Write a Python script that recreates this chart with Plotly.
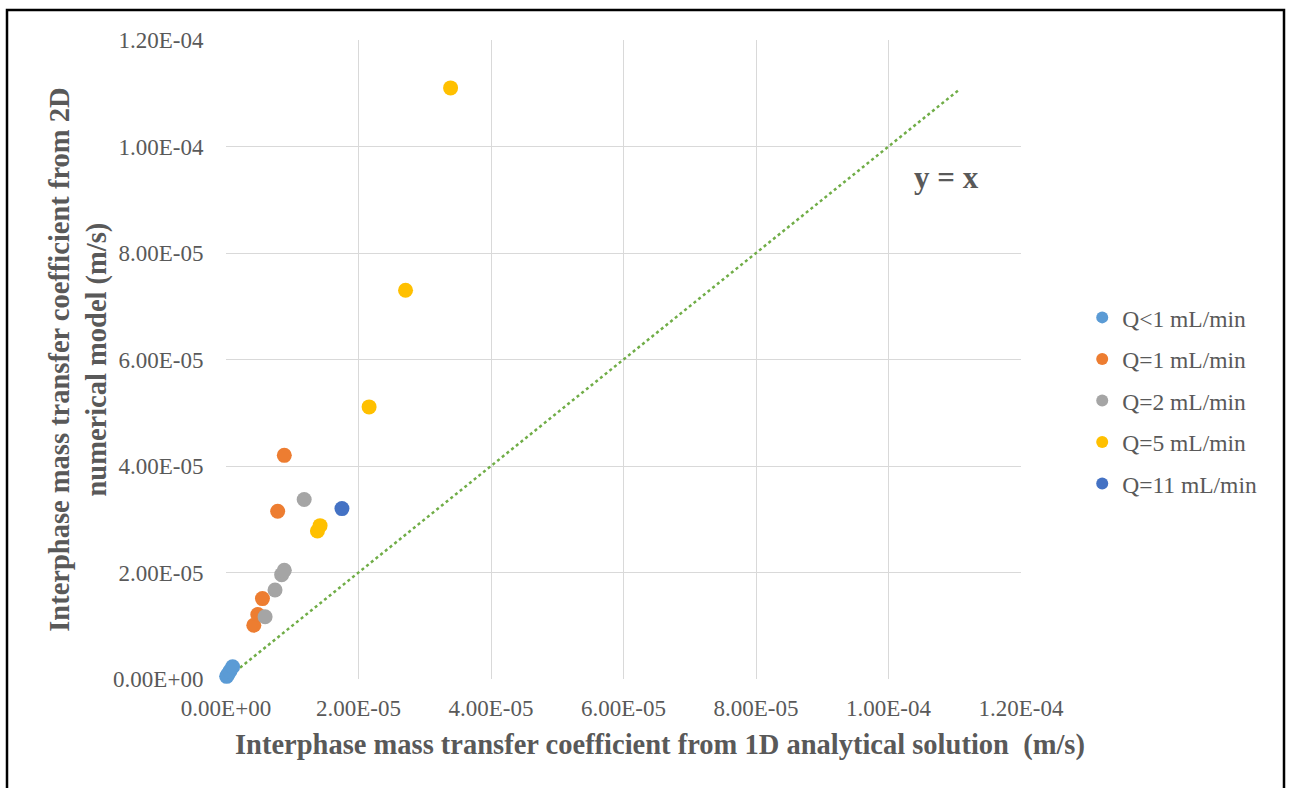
import plotly.graph_objects as go

# Interphase mass transfer coefficients: 1D analytical (x) vs 2D numerical (y), m/s
series_names = ["Q<1 mL/min", "Q=1 mL/min", "Q=2 mL/min", "Q=5 mL/min", "Q=11 mL/min"]
series_colors = ["#5B9BD5", "#ED7D31", "#A5A5A5", "#FFC000", "#4472C4"]

q_lt1_x = [1.0e-7, 3.0e-7, 6.0e-7, 1.0e-6]
q_lt1_y = [5.0e-7, 9.0e-7, 1.5e-6, 2.3e-6]

q1_x = [4.2e-6, 4.8e-6, 5.5e-6, 7.8e-6, 8.8e-6]
q1_y = [1.01e-5, 1.21e-5, 1.51e-5, 3.15e-5, 4.20e-5]

q2_x = [5.9e-6, 7.4e-6, 8.4e-6, 8.8e-6, 1.18e-5]
q2_y = [1.17e-5, 1.67e-5, 1.96e-5, 2.04e-5, 3.37e-5]

q5_x = [1.38e-5, 1.42e-5, 2.16e-5, 2.71e-5, 3.39e-5]
q5_y = [2.78e-5, 2.88e-5, 5.11e-5, 7.30e-5, 1.11e-4]

q11_x = [1.75e-5]
q11_y = [3.20e-5]

# Reference line y = x
ref_x = [0.0, 1.107e-4]
ref_y = [0.0, 1.107e-4]

tick_vals = [0, 2e-5, 4e-5, 6e-5, 8e-5, 1e-4, 1.2e-4]
tick_text = ["0.00E+00", "2.00E-05", "4.00E-05", "6.00E-05", "8.00E-05", "1.00E-04", "1.20E-04"]

x_title = "Interphase mass transfer coefficient from 1D analytical solution  (m/s)"
y_title = "Interphase mass transfer coefficient from 2D<br>numerical model (m/s)"

xs = [q_lt1_x, q1_x, q2_x, q5_x, q11_x]
ys = [q_lt1_y, q1_y, q2_y, q5_y, q11_y]

FONT = "Liberation Serif, Times New Roman, serif"
GRAY = "#595959"

# Plot area in pixels (left, right, top, bottom)
L, R, T, B = 226, 1021, 40, 679.5
W, H = R - L, B - T

fig = go.Figure()

fig.add_trace(go.Scatter(
    x=ref_x, y=ref_y, mode="lines",
    line=dict(color="#70AD47", width=2.5, dash="dot"),
    showlegend=False, hoverinfo="skip",
))

for name, color, x, y in zip(series_names, series_colors, xs, ys):
    fig.add_trace(go.Scatter(
        x=x, y=y, mode="markers", name=name, legendgroup=name,
        marker=dict(color=color, size=15, line=dict(width=0)),
        cliponaxis=False,
    ))

axis_common = dict(
    range=[0, 1.2e-4],
    tickvals=tick_vals,
    ticktext=tick_text,
    showgrid=True,
    gridcolor="#D9D9D9",
    gridwidth=1,
    zeroline=False,
    showline=False,
    ticks="outside",
    tickcolor="rgba(0,0,0,0)",
    tickfont=dict(family=FONT, size=23, color=GRAY),
)

fig.update_xaxes(**axis_common, ticklen=8)
fig.update_yaxes(**axis_common, ticklen=17)

title_font = dict(family=FONT, size=28.5, color=GRAY)

# Axis titles
fig.add_annotation(
    xref="paper", yref="paper",
    x=(660 - L) / W, y=(B - 746) / H,
    text="<b>" + x_title + "</b>", showarrow=False,
    xanchor="center", yanchor="middle", font=title_font,
)
fig.add_annotation(
    xref="paper", yref="paper",
    x=(79 - L) / W, y=(B - 360) / H,
    text="<b>" + y_title + "</b>", showarrow=False, textangle=-90,
    xanchor="center", yanchor="middle", font=title_font,
)

fig.add_annotation(
    x=1.087e-4, y=9.42e-5, text="<b>y = x</b>", showarrow=False,
    font=dict(family=FONT, size=31, color=GRAY),
)

# Outer frame around the whole chart
fig.add_shape(
    type="rect", xref="paper", yref="paper",
    x0=(7 - L) / W, x1=(1284 - L) / W,
    y0=(B - 800) / H, y1=(B - 10) / H,
    line=dict(color="black", width=2.5), fillcolor="rgba(0,0,0,0)",
    layer="below",
)

fig.update_layout(
    width=1290, height=788,
    margin=dict(l=L, r=1290 - R, t=T, b=788 - B, autoexpand=False),
    paper_bgcolor="white",
    plot_bgcolor="white",
    legend=dict(
        x=1.077, y=0.6, xanchor="left", yanchor="top",
        font=dict(family=FONT, size=23.5, color=GRAY),
        itemsizing="constant",
        itemwidth=30,
        tracegroupgap=8,
        bgcolor="rgba(0,0,0,0)",
    ),
    font=dict(family=FONT, color=GRAY),
)

fig.write_html("out.html")
